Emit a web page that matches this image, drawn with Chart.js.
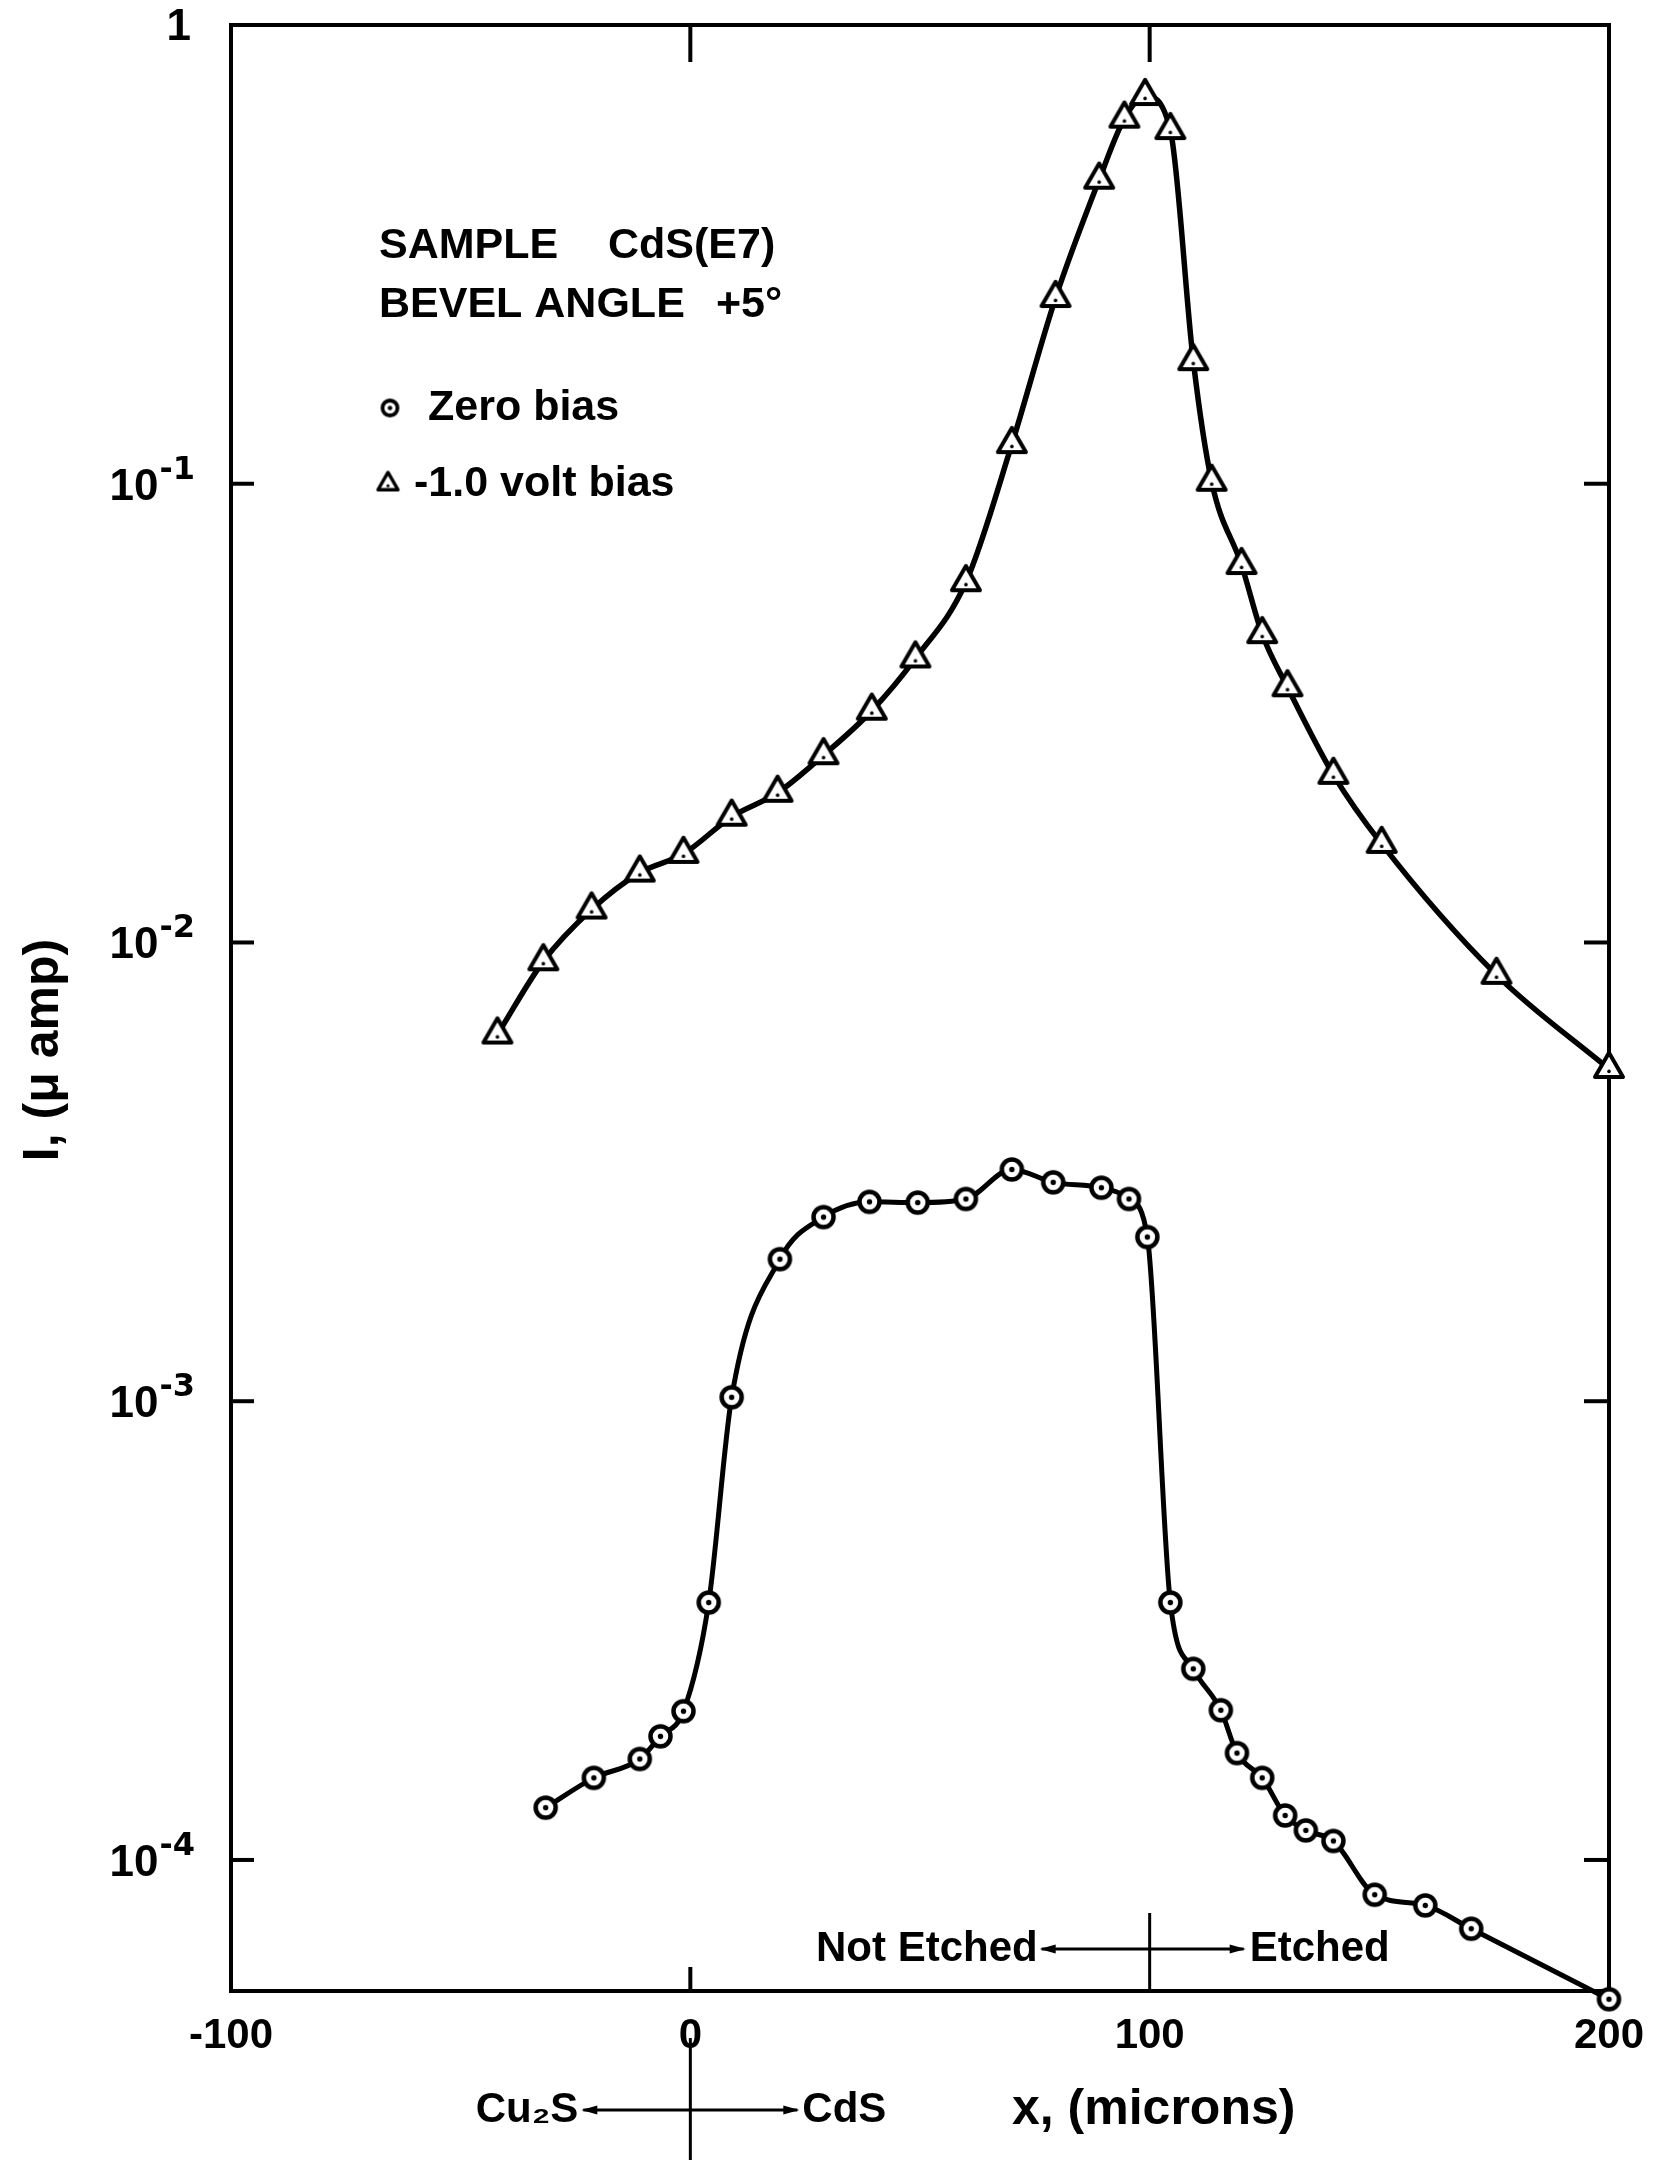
<!DOCTYPE html>
<html>
<head>
<meta charset="utf-8">
<script src="https://cdn.jsdelivr.net/npm/chart.js@4.4.1/dist/chart.umd.min.js"></script>
<style>
  html, body { margin: 0; padding: 0; background: #fff; }
</style>
</head>
<body>
<canvas id="biasChart" width="1656" height="2160"></canvas>
<script>
// axis ticks
const xTicks = [-100, 0, 100, 200]
const yDecades = [1e-4, 1e-3, 1e-2, 1e-1, 1]
const yLabels = ['10⁻⁴', '10⁻³', '10⁻²', '10⁻¹', '1']

// -1.0 volt bias (triangles)
const biasX = [-42, -32, -21.5, -11, -1.5, 9, 19, 29, 39.5, 49, 60, 70, 79.5, 89, 94.5, 99, 104.5, 109.5, 113.5, 120, 124.5, 130, 140, 150.5, 175.5, 200]
const biasI = [0.0063, 0.0091, 0.0118, 0.0142, 0.0156, 0.0188, 0.0212, 0.0256, 0.032, 0.0416, 0.061, 0.122, 0.254, 0.46, 0.625, 0.70, 0.59, 0.185, 0.101, 0.0665, 0.047, 0.036, 0.0232, 0.0164, 0.0085, 0.0053]

// zero bias (circles)
const zeroX = [-31.5, -21, -11, -6.5, -1.5, 4, 9, 19.5, 29, 39, 49.5, 60, 70, 79, 89.5, 95.5, 99.5, 104.5, 109.5, 115.5, 119, 124.5, 129.5, 134, 140, 149, 160, 170, 200]
const zeroI = [1.30e-4, 1.51e-4, 1.66e-4, 1.86e-4, 2.11e-4, 3.64e-4, 1.02e-3, 2.04e-3, 2.52e-3, 2.72e-3, 2.71e-3, 2.76e-3, 3.2e-3, 3.0e-3, 2.92e-3, 2.76e-3, 2.28e-3, 3.64e-4, 2.61e-4, 2.12e-4, 1.71e-4, 1.51e-4, 1.25e-4, 1.16e-4, 1.10e-4, 8.4e-5, 7.96e-5, 7.08e-5, 4.97e-5]

const FONT = "'Liberation Sans', 'DejaVu Sans', sans-serif"
const SUP_FONT = "'DejaVu Sans', sans-serif"

function ringMarker (r, lw) {
  const size = Math.ceil(2 * r + lw + 4)
  const c = document.createElement('canvas')
  c.width = c.height = size
  const g = c.getContext('2d')
  const m = size / 2
  g.beginPath()
  g.arc(m, m, r, 0, Math.PI * 2)
  g.fillStyle = '#fff'
  g.fill()
  g.lineWidth = lw
  g.strokeStyle = '#000'
  g.stroke()
  g.beginPath()
  g.arc(m, m, Math.max(1.5, lw * 0.6), 0, Math.PI * 2)
  g.fillStyle = '#000'
  g.fill()
  return c
}

function triMarker (side, lw) {
  const h = side * Math.sqrt(3) / 2
  const size = Math.ceil(side + lw * 2 + 4)
  const c = document.createElement('canvas')
  c.width = c.height = size
  const g = c.getContext('2d')
  const m = size / 2
  g.beginPath()
  g.moveTo(m, m - 2 * h / 3)
  g.lineTo(m + side / 2, m + h / 3)
  g.lineTo(m - side / 2, m + h / 3)
  g.closePath()
  g.fillStyle = '#fff'
  g.fill()
  g.lineJoin = 'round'
  g.lineWidth = lw
  g.strokeStyle = '#000'
  g.stroke()
  g.beginPath()
  g.arc(m, m + h / 10, Math.max(1.2, lw * 0.45), 0, Math.PI * 2)
  g.fillStyle = '#000'
  g.fill()
  return c
}

const ringPt = ringMarker(10, 4.5)
const triPt = triMarker(28, 4)
const ringLegend = ringMarker(7.5, 3.8)
const triLegend = triMarker(20, 3.4)

function line (ctx, x1, y1, x2, y2) {
  ctx.beginPath()
  ctx.moveTo(x1, y1)
  ctx.lineTo(x2, y2)
  ctx.stroke()
}

function arrowHead (ctx, x, y, dir) {
  ctx.beginPath()
  ctx.moveTo(x, y)
  ctx.lineTo(x - dir * 16, y - 4.5)
  ctx.lineTo(x - dir * 16, y + 4.5)
  ctx.closePath()
  ctx.fill()
}

// frame with inward ticks, drawn under the curves
const framePlugin = {
  id: 'frame',
  beforeDatasetsDraw (chart) {
    const { ctx, chartArea: a, scales: { x, y } } = chart
    ctx.save()
    ctx.strokeStyle = '#000'
    ctx.lineWidth = 4
    ctx.lineCap = 'butt'
    ctx.strokeRect(a.left, a.top, a.right - a.left, a.bottom - a.top)
    yDecades.forEach(v => {
      const py = y.getPixelForValue(v)
      line(ctx, a.left, py, a.left + 23, py)
      line(ctx, a.right - 25, py, a.right, py)
    })
    ;[0, 100].forEach(v => {
      const px = x.getPixelForValue(v)
      line(ctx, px, a.top, px, a.top + 37)
    })
    const x0 = x.getPixelForValue(0)
    line(ctx, x0, a.bottom, x0, a.bottom - 24)
    ctx.restore()
  }
}

// decade labels on the y axis: "10" with a raised exponent
const decadePlugin = {
  id: 'decades',
  afterDraw (chart) {
    const { ctx, chartArea: a, scales: { y } } = chart
    ctx.save()
    ctx.fillStyle = '#000'
    ctx.textBaseline = 'alphabetic'
    yDecades.forEach((v, i) => {
      const py = y.getPixelForValue(v)
      const label = yLabels[i]
      const right = a.left - 36
      if (label === '1') {
        ctx.font = 'bold 44px ' + FONT
        ctx.textAlign = 'right'
        ctx.fillText('1', right - 4, py + 15)
        return
      }
      const exp = '-' + Math.round(-Math.log10(v))
      ctx.font = 'bold 32px ' + SUP_FONT
      const ew = ctx.measureText(exp).width
      ctx.textAlign = 'right'
      ctx.fillText(exp, right, py - 5)
      ctx.font = 'bold 44px ' + FONT
      ctx.fillText('10', right - ew - 1, py + 16)
    })
    ctx.restore()
  }
}

// notes, legend block and axis titles
const notesPlugin = {
  id: 'notes',
  afterDraw (chart) {
    const { ctx, chartArea: a, scales: { x } } = chart
    ctx.save()
    ctx.fillStyle = '#000'
    ctx.strokeStyle = '#000'
    ctx.textBaseline = 'middle'
    ctx.lineWidth = 3

    // Not Etched / Etched boundary at x = 100
    const x100 = x.getPixelForValue(100)
    const ny = a.bottom - 42
    line(ctx, x100, a.bottom, x100, a.bottom - 78)
    line(ctx, x100 - 108, ny, x100 + 94, ny)
    arrowHead(ctx, x100 - 110, ny, -1)
    arrowHead(ctx, x100 + 96, ny, 1)
    ctx.font = 'bold 42px ' + FONT
    ctx.textAlign = 'right'
    ctx.fillText('Not Etched', x100 - 112, ny)
    ctx.textAlign = 'left'
    ctx.fillText('Etched', x100 + 100, ny)

    // Cu2S / CdS boundary at x = 0
    const x0 = x.getPixelForValue(0)
    const cy = 2110
    line(ctx, x0, 2038, x0, 2160)
    line(ctx, x0 - 107, cy, x0 + 107, cy)
    arrowHead(ctx, x0 - 109, cy, -1)
    arrowHead(ctx, x0 + 109, cy, 1)
    ctx.font = 'bold 42px ' + FONT
    ctx.textAlign = 'right'
    ctx.fillText('Cu₂S', x0 - 112, cy)
    ctx.textAlign = 'left'
    ctx.fillText('CdS', x0 + 112, cy)
    ctx.font = 'bold 50px ' + FONT
    ctx.fillText('x, (microns)', 1012, cy)

    // y title
    ctx.save()
    ctx.translate(44, 1050)
    ctx.rotate(-Math.PI / 2)
    ctx.textAlign = 'center'
    ctx.font = 'bold 50px ' + FONT
    ctx.fillText('I, (μ amp)', 0, 0)
    ctx.restore()

    // sample description and marker key
    ctx.textAlign = 'left'
    ctx.font = 'bold 43px ' + FONT
    ctx.fillText('SAMPLE', 379, 246)
    ctx.fillText('CdS(E7)', 608, 246)
    ctx.fillText('BEVEL ANGLE', 379, 305)
    ctx.fillText('+5°', 716, 305)
    ctx.drawImage(ringLegend, 390 - ringLegend.width / 2, 408 - ringLegend.height / 2)
    ctx.fillText('Zero bias', 428, 408)
    ctx.drawImage(triLegend, 388 - triLegend.width / 2, 484 - triLegend.height / 2)
    ctx.fillText('-1.0 volt bias', 414, 484)
    ctx.restore()
  }
}

const ctx = document.getElementById('biasChart')
new Chart(ctx, {
  type: 'scatter',
  data: {
    datasets: [
      {
        label: '-1.0 volt bias',
        data: biasX.map((v, i) => ({ x: v, y: biasI[i] })),
        showLine: true,
        borderColor: '#000',
        borderWidth: 5.5,
        cubicInterpolationMode: 'monotone',
        pointStyle: triPt,
        pointRadius: 10,
        clip: false
      },
      {
        label: 'Zero bias',
        data: zeroX.map((v, i) => ({ x: v, y: zeroI[i] })),
        showLine: true,
        borderColor: '#000',
        borderWidth: 5,
        cubicInterpolationMode: 'monotone',
        pointStyle: ringPt,
        pointRadius: 10,
        clip: false
      }
    ]
  },
  options: {
    responsive: false,
    animation: false,
    devicePixelRatio: 1,
    layout: { padding: { left: 0, top: 25, right: 47, bottom: 0 } },
    plugins: {
      legend: { display: false },
      tooltip: { enabled: false }
    },
    scales: {
      x: {
        type: 'linear',
        min: -100,
        max: 200,
        afterBuildTicks: s => { s.ticks = xTicks.map(v => ({ value: v })) },
        afterFit: s => {
          s.height = 169
          s.paddingLeft = 0
          s.paddingRight = 0
        },
        grid: { display: false, drawTicks: false },
        border: { display: false },
        ticks: {
          color: '#000',
          padding: 20,
          maxRotation: 0,
          autoSkip: false,
          font: { family: FONT, size: 42, weight: 'bold' },
          callback: v => String(v)
        }
      },
      y: {
        type: 'logarithmic',
        min: 5.18e-5,
        max: 1,
        afterBuildTicks: s => { s.ticks = yDecades.map(v => ({ value: v })) },
        afterFit: s => {
          s.width = 231
          s.paddingTop = 0
          s.paddingBottom = 0
        },
        grid: { display: false, drawTicks: false },
        border: { display: false },
        ticks: { display: false }
      }
    }
  },
  plugins: [framePlugin, decadePlugin, notesPlugin]
})
</script>
</body>
</html>
